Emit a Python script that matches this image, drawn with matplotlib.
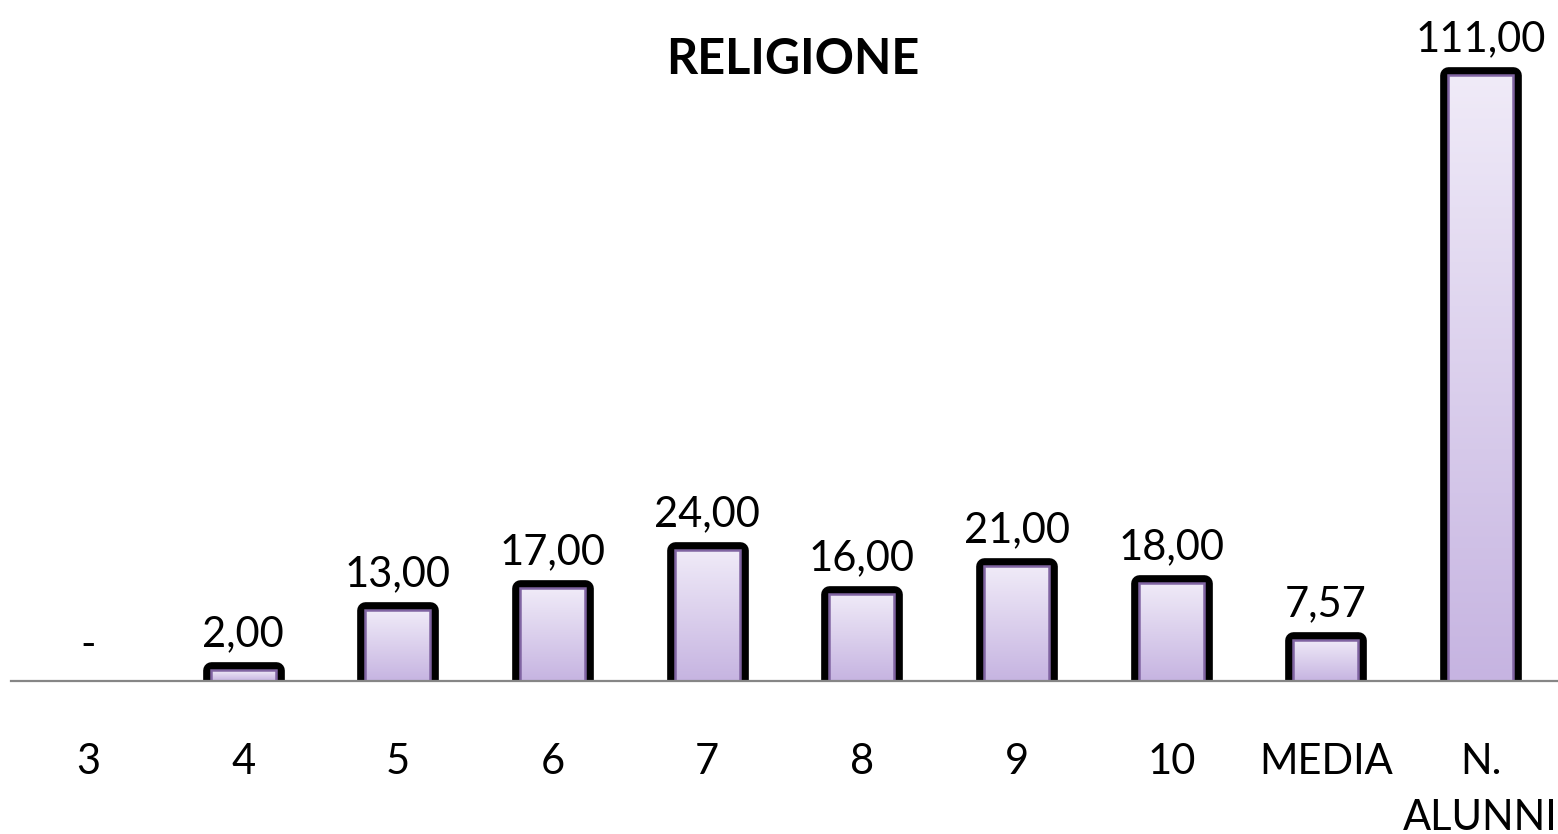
import numpy as np
import matplotlib.pyplot as plt
from matplotlib.patches import Rectangle
from matplotlib.colors import LinearSegmentedColormap

categories = ['3', '4', '5', '6', '7', '8', '9', '10', 'MEDIA', 'N.\nALUNNI']
values = [0, 2, 13, 17, 24, 16, 21, 18, 7.57, 111]

plt.rcParams['font.family'] = ['Lato', 'DejaVu Sans']

fig = plt.figure(figsize=(15.58, 8.34), dpi=100)
ax = fig.add_axes([11 / 1558, 153 / 834, 1547 / 1558, 681 / 834])

width = 0.42
x = np.arange(len(categories))

# vertical gradient, light on top
grad = np.linspace(0, 1, 256).reshape(-1, 1)
cmap = LinearSegmentedColormap.from_list('lav', ['#C6B4E1', '#F0EBF8'])

for xi, v in zip(x, values):
    if v <= 0:
        continue
    # black outer outline with rounded corners (inner half hidden by fill)
    ax.add_patch(Rectangle((xi - width / 2, 0), width, v, facecolor='none',
                           edgecolor='black', linewidth=12, joinstyle='round', zorder=2))
    clip = Rectangle((xi - width / 2, 0), width, v, facecolor='none', edgecolor='none')
    ax.add_patch(clip)
    im = ax.imshow(grad, extent=[xi - width / 2, xi + width / 2, 0, v], origin='lower',
                   cmap=cmap, aspect='auto', zorder=3, interpolation='bilinear')
    im.set_clip_path(clip)
    ax.add_patch(Rectangle((xi - width / 2, 0), width, v, facecolor='none',
                           edgecolor='#8064A2', linewidth=1.8, zorder=4))

for xi, v in zip(x, values):
    label = '-' if v == 0 else f'{v:.2f}'.replace('.', ',')
    ax.annotate(label, (xi, v), xytext=(0, 12), textcoords='offset points',
                ha='center', va='bottom', fontsize=30, color='black')

ax.set_xlim(-0.5, len(categories) - 0.5)
ax.set_ylim(0, 124.7)
ax.set_xticks(x)
ax.set_xticklabels(categories, fontsize=30, linespacing=1.55)
ax.tick_params(axis='x', length=0, pad=45)
ax.set_yticks([])
for s in ['top', 'left', 'right']:
    ax.spines[s].set_visible(False)
ax.spines['bottom'].set_color('#868686')
ax.spines['bottom'].set_linewidth(1.6)
ax.spines['bottom'].set_zorder(5)
ax.patch.set_alpha(0)

fig.text(793 / 1558, 1 - 60 / 834, 'RELIGIONE', ha='center', va='center',
         fontsize=35, fontweight='bold')

fig.savefig('out.png', dpi=100)
